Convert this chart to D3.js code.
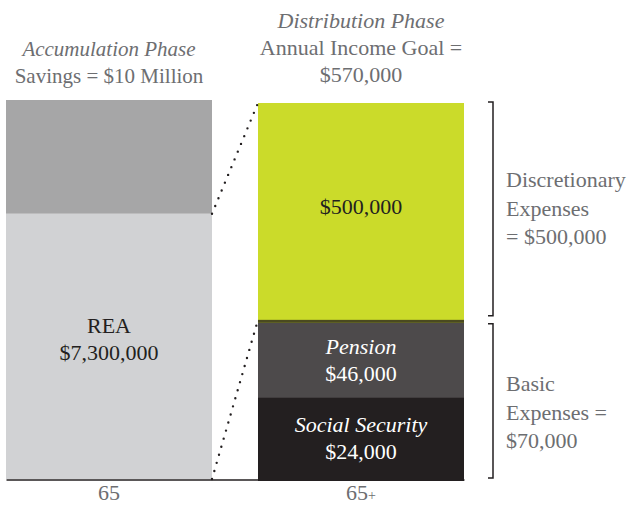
<!DOCTYPE html>
<html>
<head>
<meta charset="utf-8">
<script src="https://cdn.jsdelivr.net/npm/d3@7"></script>
<style>
  body { margin: 0; background: #fff; }
</style>
</head>
<body>
<div id="wrapper"></div>
<script>
// ages on the x axis
const phases = ['65', '65+'];

// accumulation phase (left bar), bottom to top
const savingsParts = ['REA', 'Other Savings'];
const savingsValues = [7300000, 2700000];

// distribution phase (right bar), bottom to top
const incomeParts = ['Social Security', 'Pension', 'Discretionary'];
const incomeValues = [24000, 46000, 500000];

const phaseTitles = [
  ['Accumulation Phase', 'Savings = $10 Million'],
  ['Distribution Phase', 'Annual Income Goal =', '$570,000']
];
const groupNames = [['Discretionary', 'Expenses', '= $500,000'], ['Basic', 'Expenses =', '$70,000']];

const FONT = 'Liberation Serif';

function drawChart() {
  const dimensions = {
    width: 627,
    height: 511,
    margins: { top: 100, right: 163, bottom: 32, left: 6 }
  };
  dimensions.boundedWidth = dimensions.width - dimensions.margins.left - dimensions.margins.right;
  dimensions.boundedHeight = dimensions.height - dimensions.margins.top - dimensions.margins.bottom;

  const svg = d3.select('#wrapper')
    .append('svg')
      .attr('width', dimensions.width)
      .attr('height', dimensions.height);

  const bounds = svg.append('g')
      .attr('transform', `translate(${dimensions.margins.left},${dimensions.margins.top})`);

  const xScale = d3.scaleBand()
    .domain(phases)
    .range([0, dimensions.boundedWidth])
    .paddingInner(0.1825)
    .paddingOuter(0);

  // the picture is schematic, not to scale: piecewise scales through the segment stops
  const savingsStops = [0, ...d3.cumsum(savingsValues)];
  const incomeStops = [0, ...d3.cumsum(incomeValues)];
  const h = dimensions.boundedHeight;
  const ySavings = d3.scaleLinear()
    .domain(savingsStops)
    .range([h, h * 0.30, 0]);
  const yIncome = d3.scaleLinear()
    .domain(incomeStops)
    .range([h + 2, h * 0.784, h * 0.588, 3]);

  // baseline axis
  const xAxis = bounds.append('g')
      .attr('transform', `translate(0,${h + 0.5})`)
      .call(d3.axisBottom(xScale).tickSize(0).tickPadding(5))
      .attr('font-family', FONT)
      .attr('font-size', 22);
  xAxis.select('.domain')
      .attr('stroke', '#231f20')
      .attr('stroke-width', 1.6);
  xAxis.selectAll('.tick text')
      .attr('fill', '#6d6e71')
      .each(function(d) {
        if (d.endsWith('+')) {
          const t = d3.select(this).text(d.slice(0, -1));
          t.append('tspan').text('+').attr('font-size', 14);
        }
      });

  const savingsColors = ['#d1d2d4', '#a6a6a7'];
  const incomeColors = ['#231f20', '#4d4a4b', '#cbdb2a'];

  const left = xScale(phases[0]);
  const right = xScale(phases[1]);
  const bw = xScale.bandwidth();

  bounds.append('g').selectAll('rect')
    .data(savingsValues)
    .join('rect')
      .attr('x', left)
      .attr('width', bw)
      .attr('y', (d, i) => ySavings(savingsStops[i + 1]))
      .attr('height', (d, i) => ySavings(savingsStops[i]) - ySavings(savingsStops[i + 1]))
      .attr('fill', (d, i) => savingsColors[i]);

  bounds.append('g').selectAll('rect')
    .data(incomeValues)
    .join('rect')
      .attr('x', right)
      .attr('width', bw)
      .attr('y', (d, i) => yIncome(incomeStops[i + 1]))
      .attr('height', (d, i) => yIncome(incomeStops[i]) - yIncome(incomeStops[i + 1]))
      .attr('fill', (d, i) => incomeColors[i]);

  // dark edge under the discretionary block
  bounds.append('rect')
      .attr('x', right)
      .attr('width', bw)
      .attr('y', yIncome(incomeStops[2]) - 3)
      .attr('height', 3)
      .attr('fill', '#4a4a1f');

  // dotted connectors from REA to the income bar
  const connectors = [
    [[left + bw, ySavings(savingsStops[1])], [right, yIncome(incomeStops[3])]],
    [[left + bw, ySavings(0)], [right, yIncome(incomeStops[2]) - 3]]
  ];
  bounds.append('g').selectAll('path')
    .data(connectors)
    .join('path')
      .attr('d', d => d3.line()(d))
      .attr('fill', 'none')
      .attr('stroke', '#231f20')
      .attr('stroke-width', 2.4)
      .attr('stroke-linecap', 'round')
      .attr('stroke-dasharray', '0 8.4');

  // labels inside the bars
  const fmt = d => '$' + d3.format(',')(d);
  const inside = [
    { x: left + bw / 2, y: (ySavings(0) + ySavings(savingsStops[1])) / 2 - 6, lines: [savingsParts[0], fmt(savingsValues[0])], italic: false, fill: '#231f20' },
    { x: right + bw / 2, y: (yIncome(0) + yIncome(incomeStops[1])) / 2, lines: [incomeParts[0], fmt(incomeValues[0])], italic: true, fill: '#ffffff' },
    { x: right + bw / 2, y: (yIncome(incomeStops[1]) + yIncome(incomeStops[2])) / 2 + 1, lines: [incomeParts[1], fmt(incomeValues[1])], italic: true, fill: '#ffffff' },
    { x: right + bw / 2, y: (yIncome(incomeStops[2]) + yIncome(incomeStops[3])) / 2 - 6, lines: [fmt(incomeValues[2])], italic: false, fill: '#231f20' }
  ];
  inside.forEach(lab => {
    const base = lab.y + 7 - (lab.lines.length - 1) * 14;
    lab.lines.forEach((line, i) => {
      bounds.append('text')
          .attr('x', lab.x)
          .attr('y', base + i * 27)
          .attr('text-anchor', 'middle')
          .attr('fill', lab.fill)
          .attr('font-family', FONT)
          .attr('font-size', 22)
          .attr('font-style', lab.italic && i === 0 ? 'italic' : 'normal')
          .text(line);
    });
  });

  // titles above the bars
  phaseTitles.forEach((lines, k) => {
    const cx = xScale(phases[k]) + bw / 2;
    const firstBase = k === 0 ? -44 : -72;
    lines.forEach((line, i) => {
      bounds.append('text')
          .attr('x', cx)
          .attr('y', firstBase + i * 27)
          .attr('text-anchor', 'middle')
          .attr('fill', '#6d6e71')
          .attr('font-family', FONT)
          .attr('font-size', k === 0 ? 21 : 22)
          .attr('font-style', i === 0 ? 'italic' : 'normal')
          .text(line);
    });
  });

  // brackets on the right
  const bx = right + bw + 29;
  const groups = [
    { top: yIncome(incomeStops[3]) - 1, bottom: yIncome(incomeStops[2]) - 7, names: groupNames[0], shift: 0 },
    { top: yIncome(incomeStops[2]) + 1, bottom: yIncome(0) - 3, names: groupNames[1], shift: 12 }
  ];
  groups.forEach(g => {
    bounds.append('path')
        .attr('d', `M${bx - 5},${g.top}H${bx}V${g.bottom}H${bx - 5}`)
        .attr('fill', 'none')
        .attr('stroke', '#231f20')
        .attr('stroke-width', 1.5);
    const mid = (g.top + g.bottom) / 2 + g.shift;
    g.names.forEach((line, i) => {
      bounds.append('text')
          .attr('x', bx + 13)
          .attr('y', mid + 7 + (i - 1) * 28.5)
          .attr('fill', '#6d6e71')
          .attr('font-family', FONT)
          .attr('font-size', 22)
          .text(line);
    });
  });
}

drawChart();
</script>
</body>
</html>
